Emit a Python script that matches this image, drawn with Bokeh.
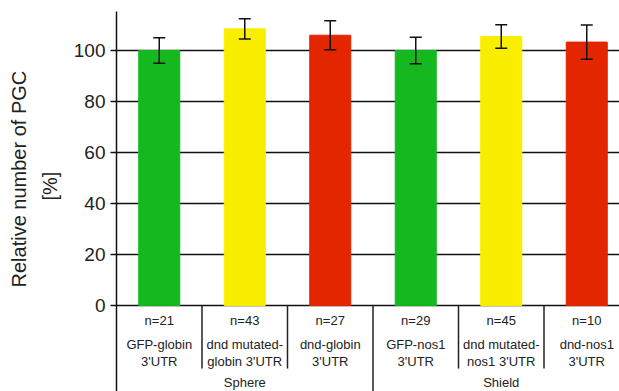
from bokeh.plotting import figure
from bokeh.models import ColumnDataSource, Whisker, TeeHead, Range1d, FixedTicker, Title
from bokeh.core.properties import value
from bokeh.embed import file_html
from bokeh.resources import INLINE

# ---- data ----
labels = ["GFP-globin\n3'UTR", "dnd mutated-\nglobin 3'UTR", "dnd-globin\n3'UTR",
          "GFP-nos1\n3'UTR", "dnd mutated-\nnos1 3'UTR", "dnd-nos1\n3'UTR"]
n_counts = [21, 43, 27, 29, 45, 10]
values = [100, 108.5, 106, 100, 105.5, 103.3]
errors = [5, 4, 5.7, 5.2, 4.6, 6.7]
stages = ["Sphere", "Shield"]
colors = ["#16b81f", "#f9ee00", "#e42600", "#16b81f", "#f9ee00", "#e42600"]
y_ticks = [0, 20, 40, 60, 80, 100]
y_title = ["Relative number of PGC", "[%]"]

FONT = "Liberation Sans"
x_pos = [i + 0.5 for i in range(len(values))]
stage_pos = [1.5, 4.5]

src = ColumnDataSource(dict(
    x=x_pos, top=values, color=colors,
    upper=[v + e for v, e in zip(values, errors)],
    lower=[v - e for v, e in zip(values, errors)],
    n=["n=%d" % k for k in n_counts], lab=labels,
))

p = figure(width=619, height=391, output_backend="svg", toolbar_location=None,
           x_range=Range1d(0, 5.883), y_range=Range1d(-33.7, 115.3),
           min_border_left=116, min_border_right=0, min_border_top=11, min_border_bottom=0)
p.outline_line_color = None
p.background_fill_color = "white"
p.border_fill_color = "white"

p.xaxis.visible = False
p.xgrid.visible = False
p.ygrid.ticker = FixedTicker(ticks=y_ticks)
p.ygrid.grid_line_color = "#111111"
p.ygrid.grid_line_width = 1.5

ya = p.yaxis[0]
ya.ticker = FixedTicker(ticks=y_ticks)
ya.axis_line_width = 1.5
ya.axis_line_color = "#111111"
ya.major_tick_line_width = 1.5
ya.major_tick_line_color = "#111111"
ya.major_tick_out = 6
ya.major_tick_in = 0
ya.minor_tick_line_color = None
ya.major_label_text_font = FONT
ya.major_label_text_font_size = "19px"
ya.major_label_text_color = "#222222"
ya.major_label_standoff = 5

# two-line y title as side titles (closest to the axis first)
t_pct = Title(text=y_title[1], align="left", offset=191, standoff=20,
              text_font=FONT, text_font_size="20px", text_font_style="normal",
              text_color="#222222")
t_main = Title(text=y_title[0], align="left", offset=104, standoff=-7,
               text_font=FONT, text_font_size="20px", text_font_style="normal",
               text_color="#222222")
p.add_layout(t_pct, "left")
p.add_layout(t_main, "left")

p.vbar(x="x", top="top", bottom=0, width=0.48, color="color", source=src)

p.add_layout(Whisker(base="x", upper="upper", lower="lower", source=src, level="annotation",
                     line_width=1.5, line_color="#111111",
                     upper_head=TeeHead(size=12, line_width=1.5, line_color="#111111"),
                     lower_head=TeeHead(size=12, line_width=1.5, line_color="#111111")))

# table separators below the axis
inner = [1, 2, 4, 5]
p.segment(x0=inner, y0=[0] * 4, x1=inner, y1=[-24.7] * 4, line_color="#222222", line_width=1.5)
p.segment(x0=[3], y0=[0], x1=[3], y1=[-34], line_color="#222222", line_width=1.5)

p.text(x="x", y=-5.9, text="n", source=src, text_align="center", text_baseline="middle",
       text_font=value(FONT), text_font_size="13px", text_color="#222222")
p.text(x="x", y=-18.6, text="lab", source=src, text_align="center", text_baseline="middle",
       text_font=value(FONT), text_font_size="13px", text_color="#222222", text_line_height=1.15)
p.text(x=stage_pos, y=[-30.2] * 2, text=stages, text_align="center", text_baseline="middle",
       text_font=value(FONT), text_font_size="13px", text_color="#222222")

open("out.html", "w").write(file_html(p, INLINE))
